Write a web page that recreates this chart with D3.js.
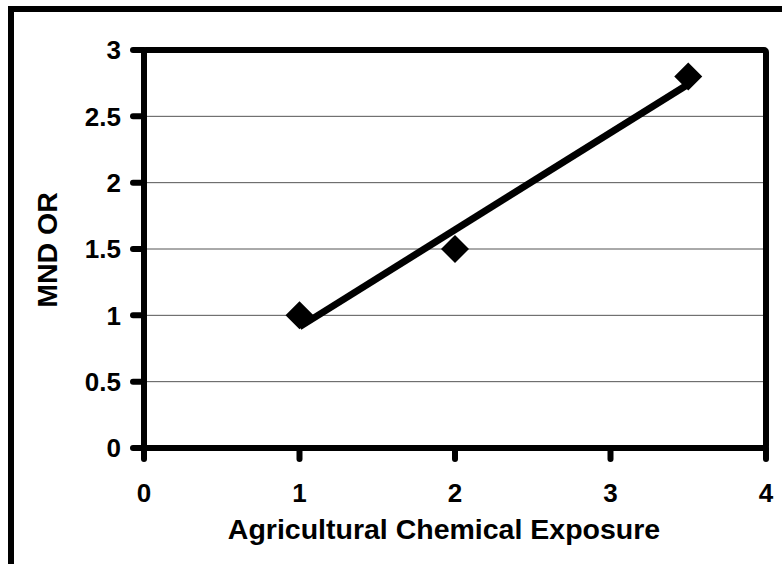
<!DOCTYPE html>
<html>
<head>
<meta charset="utf-8">
<style>
  body { margin: 0; background: #fff; }
  text { font-family: "Liberation Sans", Arial, sans-serif; font-weight: bold; fill: #000; }
  .grid line { stroke: #555; stroke-width: 1; }
</style>
</head>
<body>
<svg id="chart" width="782" height="564"></svg>
<script src="https://cdnjs.cloudflare.com/ajax/libs/d3/7.8.5/d3.min.js"></script>
<script>
  // data
  var exposure = [1, 2, 3.5];
  var mndOR = [1, 1.5, 2.8];
  var xTicks = [0, 1, 2, 3, 4];
  var yTicks = [0, 0.5, 1, 1.5, 2, 2.5, 3];

  var svg = d3.select("#chart");

  // outer frame (only top and left show, rest is cut off)
  svg.append("path")
    .attr("d", "M11,570 L11,9 L790,9")
    .attr("fill", "none")
    .attr("stroke", "#000")
    .attr("stroke-width", 6);

  var x = d3.scaleLinear().domain([0, 4]).range([144, 766]);
  var y = d3.scaleLinear().domain([0, 3]).range([448, 50]);

  // gridlines
  svg.append("g").attr("class", "grid")
    .selectAll("line")
    .data(yTicks.filter(function(d){ return d > 0 && d < 3; }))
    .enter().append("line")
    .attr("x1", x(0)).attr("x2", x(4))
    .attr("y1", function(d){ return y(d); })
    .attr("y2", function(d){ return y(d); });

  // tick marks
  svg.append("g").selectAll("line")
    .data(yTicks).enter().append("line")
    .attr("x1", x(0) - 11).attr("x2", x(0))
    .attr("y1", function(d){ return y(d); })
    .attr("y2", function(d){ return y(d); })
    .attr("stroke", "#000").attr("stroke-width", 6)
    .attr("stroke-linecap", "round");

  svg.append("g").selectAll("line")
    .data(xTicks).enter().append("line")
    .attr("x1", function(d){ return x(d); })
    .attr("x2", function(d){ return x(d); })
    .attr("y1", y(0)).attr("y2", y(0) + 11)
    .attr("stroke", "#000").attr("stroke-width", 6)
    .attr("stroke-linecap", "round");

  // plot frame
  svg.append("rect")
    .attr("x", x(0)).attr("y", y(3))
    .attr("width", x(4) - x(0)).attr("height", y(0) - y(3))
    .attr("fill", "none").attr("stroke", "#000").attr("stroke-width", 6)
    .attr("rx", 2);

  // tick labels
  svg.append("g").selectAll("text")
    .data(yTicks).enter().append("text")
    .attr("x", 121)
    .attr("y", function(d){ return y(d); })
    .attr("dy", "0.36em")
    .attr("text-anchor", "end")
    .style("font-size", "26px")
    .text(function(d){ return d; });

  svg.append("g").selectAll("text")
    .data(xTicks).enter().append("text")
    .attr("x", function(d){ return x(d); })
    .attr("y", 502)
    .attr("text-anchor", "middle")
    .style("font-size", "26px")
    .text(function(d){ return d; });

  // axis titles
  svg.append("text")
    .attr("x", 444).attr("y", 539)
    .attr("text-anchor", "middle")
    .style("font-size", "28.5px")
    .text("Agricultural Chemical Exposure");

  svg.append("text")
    .attr("transform", "translate(57,250) rotate(-90)")
    .attr("text-anchor", "middle")
    .style("font-size", "28.5px")
    .text("MND OR");

  // linear trend line
  var mx = d3.mean(exposure), my = d3.mean(mndOR);
  var sxy = d3.sum(exposure, function(v, i){ return (v - mx) * (mndOR[i] - my); });
  var sxx = d3.sum(exposure, function(v){ return (v - mx) * (v - mx); });
  var slope = sxy / sxx, icept = my - slope * mx;
  var xr = d3.extent(exposure);

  svg.append("line")
    .attr("x1", x(xr[0])).attr("y1", y(icept + slope * xr[0]))
    .attr("x2", x(xr[1])).attr("y2", y(icept + slope * xr[1]))
    .attr("stroke", "#000").attr("stroke-width", 7);

  // diamond markers
  svg.append("g").selectAll("path")
    .data(exposure).enter().append("path")
    .attr("transform", function(d, i){ return "translate(" + x(d) + "," + y(mndOR[i]) + ")"; })
    .attr("d", "M0,-14 L14,0 L0,14 L-14,0 Z")
    .attr("fill", "#000");
</script>
</body>
</html>
